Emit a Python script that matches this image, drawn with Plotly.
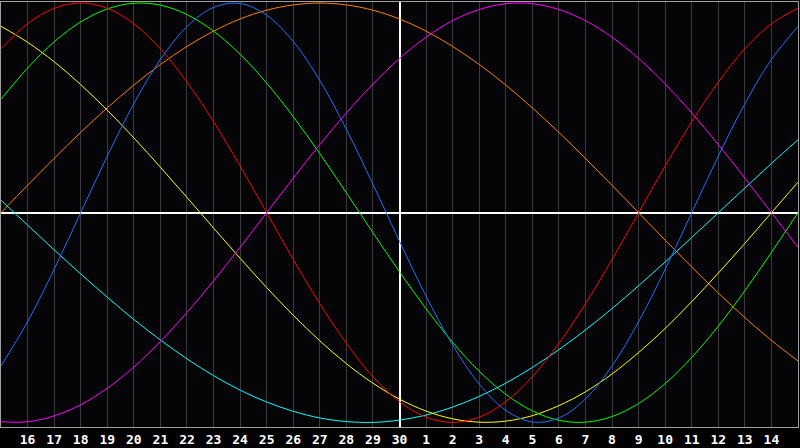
import plotly.graph_objects as go

# Day-of-month labels along the bottom (one per grid line), left edge = 15th
day_labels = ["16", "17", "18", "19", "20", "21", "22", "23", "24", "25", "26", "27", "28", "29", "30",
              "1", "2", "3", "4", "5", "6", "7", "8", "9", "10", "11", "12", "13", "14"]
month_end_label = "30"

# Cycle values per day (d = 0 .. 30, left edge to right edge)
red_28 = [0.782, 0.901, 0.975, 1.0, 0.975, 0.901, 0.782, 0.623, 0.434, 0.223, 0.0,
          -0.223, -0.434, -0.623, -0.782, -0.901, -0.975, -1.0, -0.975, -0.901, -0.782,
          -0.623, -0.434, -0.223, 0.0, 0.223, 0.434, 0.623, 0.782, 0.901, 0.975]
blue_23 = [-0.731, -0.520, -0.270, 0.0, 0.270, 0.520, 0.731, 0.888, 0.979, 0.998, 0.942,
           0.817, 0.631, 0.398, 0.136, -0.136, -0.398, -0.631, -0.817, -0.942, -0.998,
           -0.979, -0.888, -0.731, -0.520, -0.270, 0.0, 0.270, 0.520, 0.731, 0.888]
green_33 = [0.541, 0.690, 0.815, 0.910, 0.972, 0.999, 0.990, 0.945, 0.866, 0.756, 0.618,
            0.458, 0.282, 0.095, -0.095, -0.282, -0.458, -0.618, -0.756, -0.866, -0.945,
            -0.990, -0.999, -0.972, -0.910, -0.815, -0.690, -0.541, -0.372, -0.189, 0.0]
orange_48 = [0.0, 0.131, 0.259, 0.383, 0.5, 0.609, 0.707, 0.793, 0.866, 0.924, 0.966,
             0.991, 1.0, 0.991, 0.966, 0.924, 0.866, 0.793, 0.707, 0.609, 0.5,
             0.383, 0.259, 0.131, 0.0, -0.131, -0.259, -0.383, -0.5, -0.609, -0.707]
yellow_43 = [0.889, 0.813, 0.720, 0.611, 0.489, 0.357, 0.217, 0.073, -0.073, -0.217, -0.357,
             -0.489, -0.611, -0.720, -0.813, -0.889, -0.946, -0.983, -0.999, -0.994, -0.968,
             -0.920, -0.854, -0.769, -0.667, -0.552, -0.424, -0.288, -0.146, 0.0, 0.146]
magenta_38 = [-0.997, -0.997, -0.969, -0.916, -0.837, -0.736, -0.614, -0.476, -0.325, -0.165, 0.0,
              0.165, 0.325, 0.476, 0.614, 0.736, 0.837, 0.916, 0.969, 0.997, 0.997,
              0.969, 0.916, 0.837, 0.736, 0.614, 0.476, 0.325, 0.165, 0.0, -0.165]
cyan_53 = [0.059, -0.059, -0.177, -0.292, -0.403, -0.509, -0.607, -0.697, -0.777, -0.846, -0.903,
           -0.947, -0.979, -0.996, -1.0, -0.989, -0.965, -0.927, -0.876, -0.813, -0.738,
           -0.653, -0.559, -0.457, -0.348, -0.235, -0.118, 0.0, 0.118, 0.235, 0.348]

series = [
    ("Awareness", orange_48, "#ff8000"),
    ("Spiritual", cyan_53, "#00ffff"),
    ("Aesthetic", yellow_43, "#ffff00"),
    ("Intuitive", magenta_38, "#ff00ff"),
    ("Intellectual", green_33, "#00ff00"),
    ("Emotional", red_28, "#ff0000"),
    ("Physical", blue_23, "#2070ff"),
]

# x is measured in days relative to the month end, so the axis zero line marks it
month_end_idx = day_labels.index(month_end_label) + 1
tick_pos = [i + 1 - month_end_idx for i in range(len(day_labels))]
n_days = len(red_28)

fig = go.Figure()
for name, vals, col in series:
    fig.add_trace(go.Scatter(
        x=[i - month_end_idx for i in range(len(vals))], y=vals, mode="lines", name=name,
        line=dict(color=col, width=1, shape="spline", smoothing=1.0),
        hoverinfo="skip",
    ))

fig.update_layout(
    width=800, height=448,
    margin=dict(l=1, r=1, t=1, b=20),
    paper_bgcolor="#000000",
    plot_bgcolor="#050508",
    showlegend=False,
    xaxis=dict(
        range=[-month_end_idx, n_days - 1 - month_end_idx],
        tickvals=tick_pos, ticktext=day_labels,
        showgrid=True, gridcolor="#3a3a3c", gridwidth=1,
        zeroline=True, zerolinecolor="#ffffff", zerolinewidth=2,
        showline=True, mirror=True, linecolor="#a0a0a0", linewidth=1,
        ticks="", tickfont=dict(family="DejaVu Sans Mono", size=13, color="#ffffff", weight="bold"),
        fixedrange=True,
    ),
    yaxis=dict(
        range=[-1.022, 1.005],
        showgrid=False, showticklabels=False, ticks="",
        zeroline=True, zerolinecolor="#ffffff", zerolinewidth=2,
        showline=True, mirror=True, linecolor="#a0a0a0", linewidth=1,
        fixedrange=True,
    ),
)

fig.write_html(
    "out.html",
    config={"displayModeBar": False},
    post_script="document.body.style.margin='0';document.body.style.padding='0';"
                "document.body.style.overflow='hidden';document.body.style.background='#000';",
)
